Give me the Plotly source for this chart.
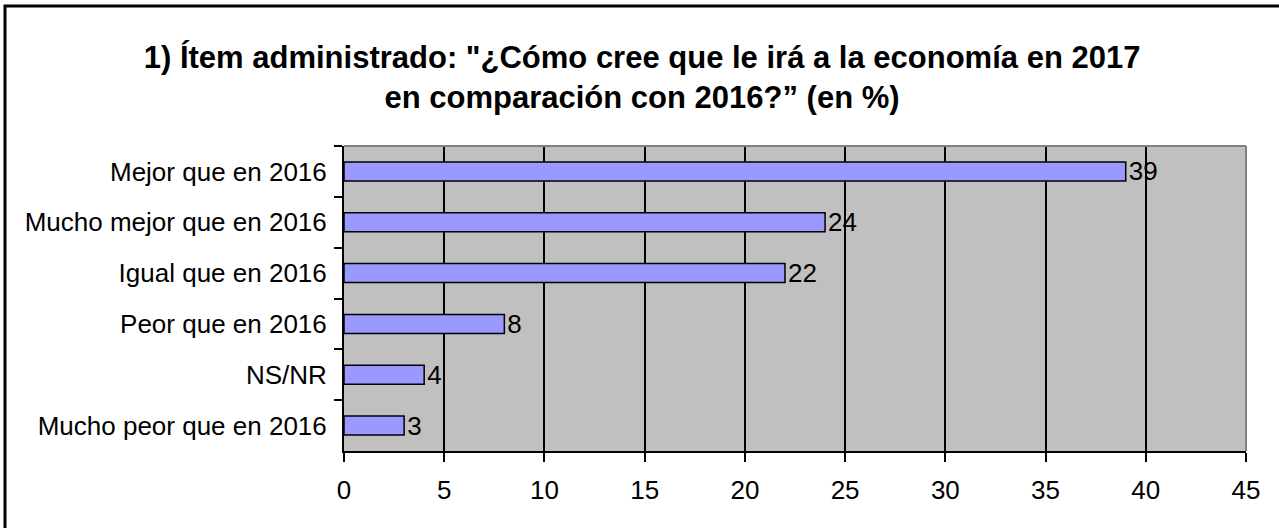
import plotly.graph_objects as go

categories = [
    "Mejor que en 2016",
    "Mucho mejor que en 2016",
    "Igual que en 2016",
    "Peor que en 2016",
    "NS/NR",
    "Mucho peor que en 2016",
]
values = [39, 24, 22, 8, 4, 3]
x_ticks = [0, 5, 10, 15, 20, 25, 30, 35, 40, 45]

title_text = (
    "<b>1) Ítem administrado: \"¿Cómo cree que le irá a la economía en 2017"
    "<br>en comparación con 2016?” (en %)</b>"
)

W, H = 1279, 528
ml, mr, mt, mb = 344, 33, 146, 77
pw, ph = W - ml - mr, H - mt - mb

fig = go.Figure()
fig.add_trace(
    go.Bar(
        x=values,
        y=categories,
        orientation="h",
        marker=dict(color="#9999FF", line=dict(color="black", width=1.5)),
        text=values,
        textposition="outside",
        constraintext="none",
        textfont=dict(size=26, color="black"),
        cliponaxis=False,
        width=0.375,
    )
)

fig.update_layout(
    width=W,
    height=H,
    margin=dict(l=ml, r=mr, t=mt, b=mb),
    paper_bgcolor="white",
    plot_bgcolor="#C0C0C0",
    font=dict(family="Liberation Sans, Arial", size=26, color="black"),
    title=dict(
        text=title_text,
        x=0.502,
        xanchor="center",
        y=1 - 68 / H,
        yanchor="middle",
        font=dict(size=31, color="black"),
    ),
    showlegend=False,
    xaxis=dict(
        range=[0, 45],
        tickvals=x_ticks,
        showgrid=True,
        gridcolor="black",
        gridwidth=1.5,
        showline=True,
        linecolor="black",
        linewidth=2,
        ticks="outside",
        ticklen=9,
        tickcolor="black",
        tickwidth=2,
        zeroline=False,
        ticklabelstandoff=6,
    ),
    yaxis=dict(
        autorange="reversed",
        showline=True,
        linecolor="black",
        linewidth=2,
        ticks="outside",
        tickson="boundaries",
        ticklen=8,
        tickcolor="black",
        tickwidth=2,
        showgrid=False,
        ticklabelstandoff=10,
    ),
    shapes=[
        # grey frame on top/right of plot area
        dict(type="line", xref="paper", yref="paper", x0=0, x1=1, y0=1, y1=1,
             line=dict(color="#808080", width=2)),
        dict(type="line", xref="paper", yref="paper", x0=1, x1=1, y0=0, y1=1,
             line=dict(color="#808080", width=2)),
        # outer chart border (right/bottom edges fall outside the picture)
        dict(type="rect", xref="paper", yref="paper",
             x0=(5 - ml) / pw, x1=(W + 20 - ml) / pw,
             y0=-(mb + 20) / ph, y1=1 + (mt - 6) / ph,
             line=dict(color="black", width=3), layer="below"),
    ],
)

fig.write_html(
    "out.html",
    config={"displayModeBar": False},
    post_script="document.body.style.margin='0';",
)
